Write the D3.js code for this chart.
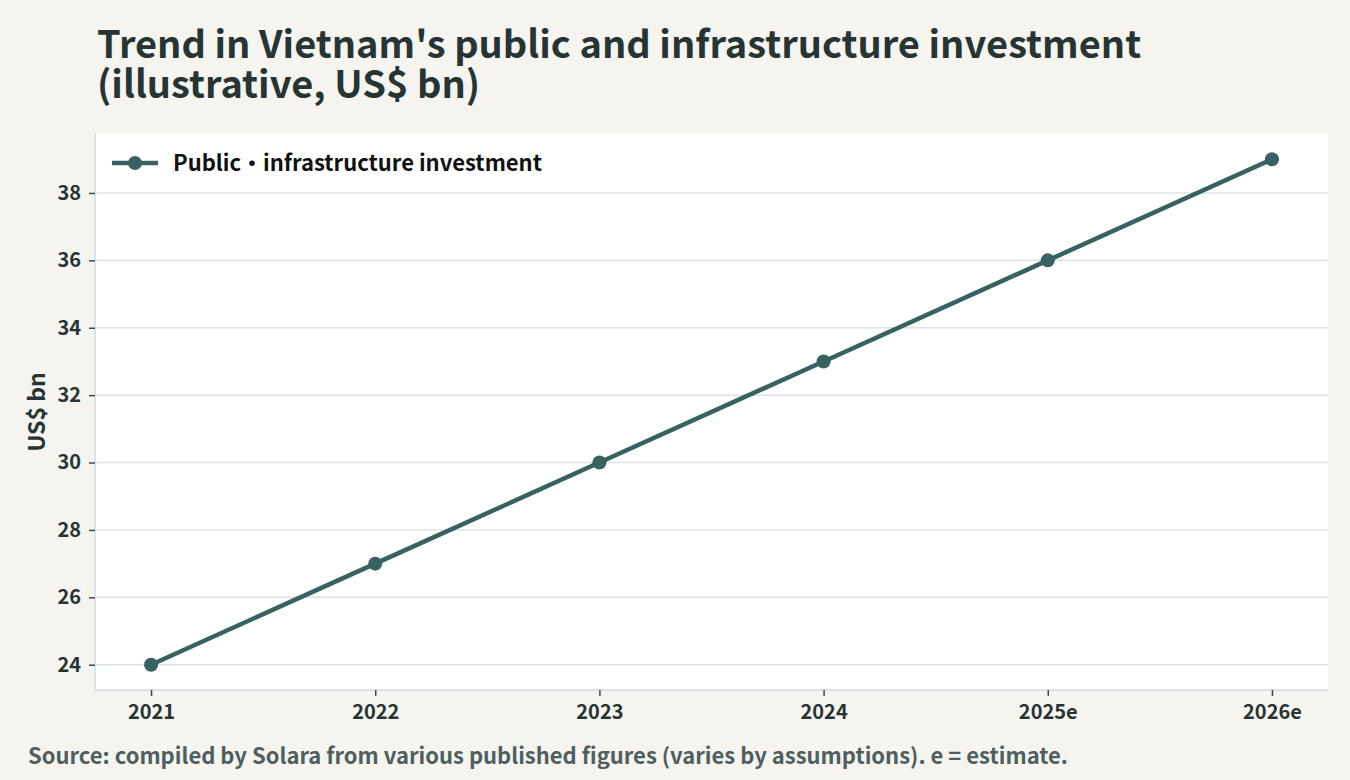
<!DOCTYPE html>
<html>
<head>
<meta charset="utf-8">
<script src="https://cdn.jsdelivr.net/npm/d3@7"></script>
<style>
  html, body { margin: 0; padding: 0; background: #f5f4ef; }
  svg { display: block; font-family: "Noto Sans CJK JP", "Noto Sans", sans-serif; font-weight: 700; }
</style>
</head>
<body>
<svg id="chart"></svg>
<script>
// Data
const years = ["2021", "2022", "2023", "2024", "2025e", "2026e"];
const investment = [24, 27, 30, 33, 36, 39];
const yTicks = [24, 26, 28, 30, 32, 34, 36, 38];
const seriesName = "Public・infrastructure investment";
const titleLines = ["Trend in Vietnam's public and infrastructure investment", "(illustrative, US$ bn)"];
const sourceNote = "Source: compiled by Solara from various published figures (varies by assumptions). e = estimate.";

const width = 1350;
const height = 780;
const margin = { top: 134, right: 22, bottom: 90, left: 95 };
const lineColor = "#386262";
const textDark = "#273434";

const svg = d3.select("#chart")
  .attr("width", width)
  .attr("height", height);

svg.append("rect").attr("width", width).attr("height", height).attr("fill", "#f5f4ef");

// skaler (5% luft som i originalen)
const x = d3.scalePoint()
  .domain(years)
  .range([margin.left, width - margin.right])
  .padding(0.25);

const yMin = d3.min(investment), yMax = d3.max(investment);
const pad = (yMax - yMin) * 0.05;
const y = d3.scaleLinear()
  .domain([yMin - pad, yMax + pad])
  .range([height - margin.bottom, margin.top]);

// plotområde
svg.append("rect")
  .attr("x", margin.left)
  .attr("y", margin.top)
  .attr("width", width - margin.left - margin.right)
  .attr("height", height - margin.top - margin.bottom)
  .attr("fill", "#ffffff");

// gitterlinjer
svg.append("g")
  .selectAll("line")
  .data(yTicks)
  .join("line")
  .attr("x1", margin.left)
  .attr("x2", width - margin.right)
  .attr("y1", d => y(d))
  .attr("y2", d => y(d))
  .attr("stroke", "#dde3e3")
  .attr("stroke-width", 1.5);

// akser
const xAxis = svg.append("g")
  .attr("transform", `translate(0,${height - margin.bottom})`)
  .call(d3.axisBottom(x).tickSize(6).tickPadding(9));

const yAxis = svg.append("g")
  .attr("transform", `translate(${margin.left},0)`)
  .call(d3.axisLeft(y).tickValues(yTicks).tickSize(6).tickPadding(8));

[xAxis, yAxis].forEach(g => {
  g.select(".domain").attr("stroke", "#dde3e3").attr("stroke-width", 2);
  g.selectAll(".tick line").attr("stroke", "#3d4a4a").attr("stroke-width", 1.5);
  g.selectAll(".tick text")
    .attr("fill", textDark)
    .style("font-size", "20px")
    .style("font-weight", "700")
    .style("font-family", "'Noto Sans CJK JP', sans-serif");
});
// y-domænelinjen skal ikke have ender udenfor
yAxis.select(".domain").attr("d", `M0,${margin.top}V${height - margin.bottom}`);
xAxis.select(".domain").attr("d", `M${margin.left},0H${width - margin.right}`);

// akse-titel
svg.append("text")
  .attr("transform", `translate(45,${(margin.top + height - margin.bottom) / 2}) rotate(-90)`)
  .attr("text-anchor", "middle")
  .attr("fill", textDark)
  .style("font-size", "23px")
  .text("US$ bn");

// linje
const line = d3.line()
  .x((d, i) => x(years[i]))
  .y(d => y(d));

svg.append("path")
  .datum(investment)
  .attr("d", line)
  .attr("fill", "none")
  .attr("stroke", lineColor)
  .attr("stroke-width", 4.5)
  .attr("stroke-linejoin", "round");

svg.append("g")
  .selectAll("circle")
  .data(investment)
  .join("circle")
  .attr("cx", (d, i) => x(years[i]))
  .attr("cy", d => y(d))
  .attr("r", 7)
  .attr("fill", lineColor);

// legende
const legend = svg.append("g").attr("transform", "translate(112,163)");
legend.append("line").attr("x1", 0).attr("x2", 46).attr("stroke", lineColor).attr("stroke-width", 4.5);
legend.append("circle").attr("cx", 23).attr("r", 7).attr("fill", lineColor);
legend.append("text")
  .attr("x", 61)
  .attr("dy", "0.35em")
  .attr("fill", "#111")
  .style("font-size", "22px")
  .text(seriesName);

// titel
svg.append("g")
  .selectAll("text")
  .data(titleLines)
  .join("text")
  .attr("x", 97)
  .attr("y", (d, i) => 58 + i * 40)
  .attr("fill", textDark)
  .style("font-size", "38px")
  .text(d => d);

// kilde
svg.append("text")
  .attr("x", 28)
  .attr("y", 764)
  .attr("fill", "#4f5f5f")
  .style("font-size", "22px")
  .text(sourceNote);
</script>
</body>
</html>
